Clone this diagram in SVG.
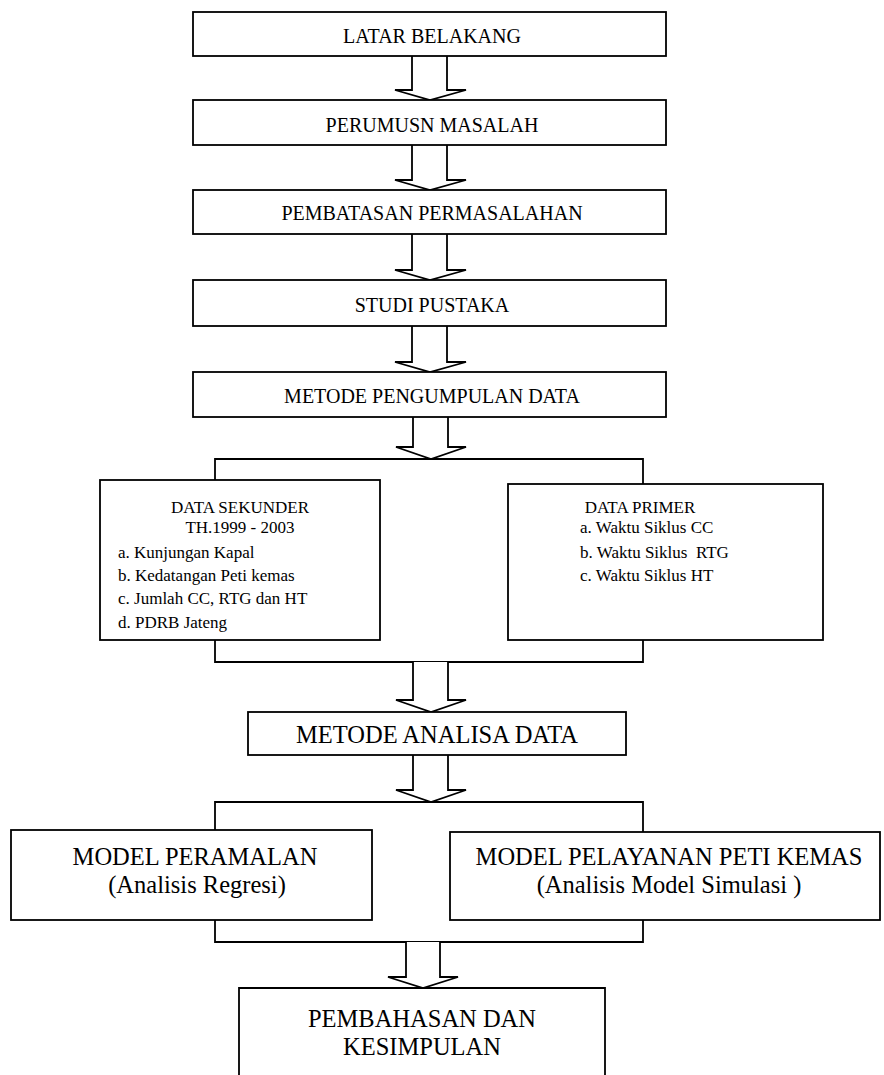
<svg xmlns="http://www.w3.org/2000/svg" width="884" height="1075" viewBox="0 0 884 1075">
<style>
.box{fill:#fff;stroke:#000;stroke-width:1.8}
.ln{fill:none;stroke:#000;stroke-width:1.8}
.arr{fill:#fff;stroke:#000;stroke-width:1.8;stroke-linejoin:miter}
.t20{font-family:"Liberation Serif","Times New Roman",serif;font-size:20px;fill:#000;text-anchor:middle}
.t24{font-family:"Liberation Serif","Times New Roman",serif;font-size:24.5px;fill:#000;text-anchor:middle}
.t17{font-family:"Liberation Serif","Times New Roman",serif;font-size:17px;fill:#000}
.c{text-anchor:middle}
</style>
<rect width="884" height="1075" fill="#fff"/>
<g id="connectors">
<path class="arr" d="M412,56 V90 H395 L430,100 L466,90 H447 V56"/>
<path class="arr" d="M412,145 V180 H395 L430,190 L466,180 H447 V145"/>
<path class="arr" d="M412,234 V270 H395 L430,280 L466,270 H447 V234"/>
<path class="arr" d="M412,326 V362 H395 L430,372 L466,362 H447 V326"/>
<path class="arr" d="M413,417 V447 H396 L431,459 L466,447 H448 V417"/>
<path class="ln" d="M215,480 V459 H643 V484"/>
<path class="ln" d="M215,640 V662 H643 V640"/>
<path class="arr" d="M413,662 V700 H396 L431,712 L466,700 H448 V662"/>
<path class="arr" d="M413,755 V790 H396 L431,802 L466,790 H448 V755"/>
<path class="ln" d="M215,830 V802 H643 V832"/>
<path class="ln" d="M215,920 V942 H643 V920"/>
<path class="arr" d="M406,942 V977 H388 L423,988 L458,977 H440 V942"/>
</g>
<g id="latar-belakang">
<rect class="box" x="193" y="12" width="473" height="44"/>
<text class="t20" x="432" y="43">LATAR BELAKANG</text>
</g>
<g id="perumusan-masalah">
<rect class="box" x="193" y="100" width="473" height="45"/>
<text class="t20" x="432" y="132">PERUMUSN MASALAH</text>
</g>
<g id="pembatasan-permasalahan">
<rect class="box" x="193" y="190" width="473" height="44"/>
<text class="t20" x="432" y="220">PEMBATASAN PERMASALAHAN</text>
</g>
<g id="studi-pustaka">
<rect class="box" x="193" y="280" width="473" height="46"/>
<text class="t20" x="432" y="312">STUDI PUSTAKA</text>
</g>
<g id="metode-pengumpulan-data">
<rect class="box" x="193" y="372" width="473" height="45"/>
<text class="t20" x="432" y="403">METODE PENGUMPULAN DATA</text>
</g>
<g id="data-sekunder">
<rect class="box" x="100" y="480" width="280" height="160"/>
<text class="t17 c" x="240" y="513">DATA SEKUNDER</text>
<text class="t17 c" x="240" y="533">TH.1999 - 2003</text>
<text class="t17" x="118" y="558">a. Kunjungan Kapal</text>
<text class="t17" x="118" y="581">b. Kedatangan Peti kemas</text>
<text class="t17" x="118" y="604">c. Jumlah CC, RTG dan HT</text>
<text class="t17" x="118" y="628">d. PDRB Jateng</text>
</g>
<g id="data-primer">
<rect class="box" x="508" y="484" width="315" height="156"/>
<text class="t17 c" x="640" y="513">DATA PRIMER</text>
<text class="t17" x="580" y="533">a. Waktu Siklus CC</text>
<text class="t17" x="580" y="558" style="white-space:pre">b. Waktu Siklus  RTG</text>
<text class="t17" x="580" y="581">c. Waktu Siklus HT</text>
</g>
<g id="metode-analisa-data">
<rect class="box" x="248" y="712" width="378" height="43"/>
<text class="t24" x="437" y="743">METODE ANALISA DATA</text>
</g>
<g id="model-peramalan">
<rect class="box" x="11" y="830" width="361" height="90"/>
<text class="t24" x="195" y="865">MODEL PERAMALAN</text>
<text class="t24" x="197" y="893">(Analisis Regresi)</text>
</g>
<g id="model-pelayanan">
<rect class="box" x="450" y="832" width="430" height="88"/>
<text class="t24" x="669" y="865">MODEL PELAYANAN PETI KEMAS</text>
<text class="t24" x="669" y="893">(Analisis Model Simulasi )</text>
</g>
<g id="pembahasan-kesimpulan">
<path class="ln" d="M239,1075 V988 H605 V1075"/>
<text class="t24" x="422" y="1027">PEMBAHASAN DAN</text>
<text class="t24" x="422" y="1055">KESIMPULAN</text>
</g>
</svg>
